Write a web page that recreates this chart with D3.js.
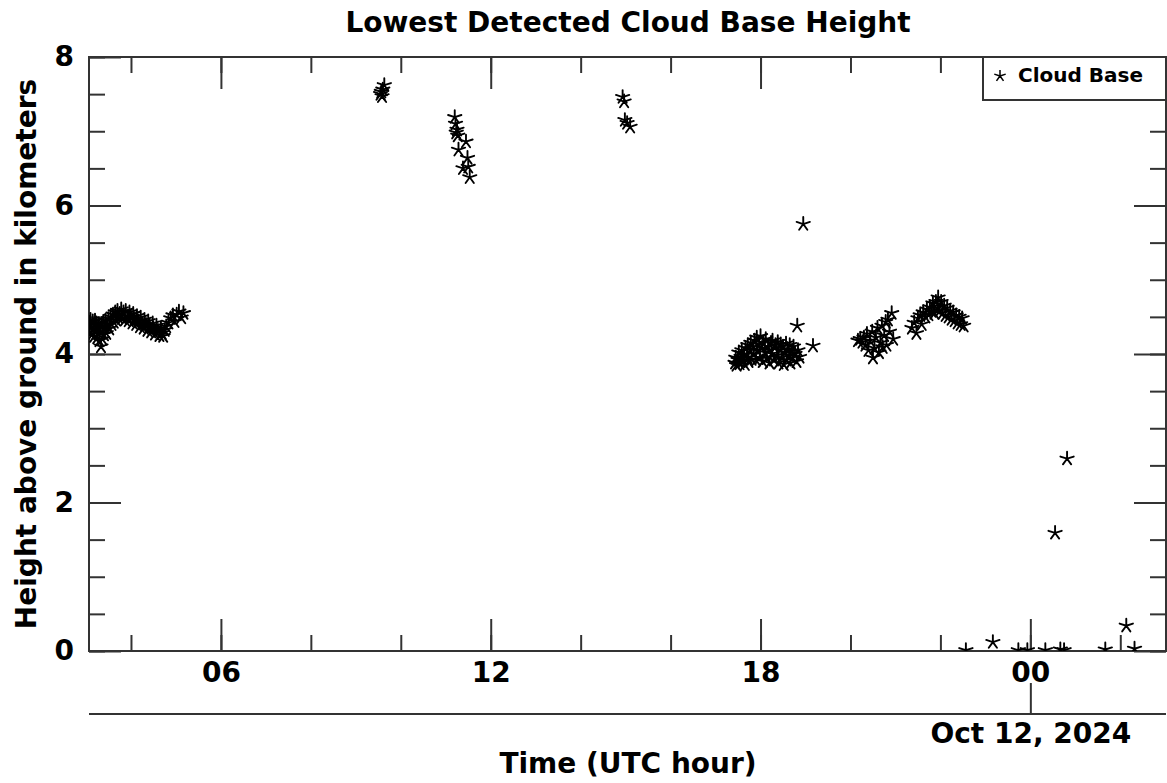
<!DOCTYPE html>
<html>
<head>
<meta charset="utf-8">
<script src="https://cdn.jsdelivr.net/npm/d3@7"></script>
<style>
  body { margin: 0; background: #fff; }
  text { font-family: "DejaVu Sans", sans-serif; font-weight: bold; fill: #000; }
</style>
</head>
<body>
<div id="chart"></div>
<script>
// cloud base observations, Oct 11 2024 (UTC)
var timesOct11 = [
  "03:04","03:05","03:06","03:07","03:08","03:09","03:10","03:11","03:12","03:13",
  "03:14","03:15","03:16","03:17","03:18","03:19","03:20","03:21","03:22","03:23",
  "03:24","03:25","03:26","03:27","03:28","03:30","03:31","03:33","03:34","03:36",
  "03:37","03:39","03:40","03:42","03:43","03:45","03:47","03:48","03:50","03:52",
  "03:53","03:55","03:57","03:58","04:00","04:02","04:03","04:05","04:07","04:08",
  "04:10","04:12","04:13","04:15","04:17","04:18","04:20","04:22","04:23","04:25",
  "04:27","04:29","04:30","04:32","04:34","04:36","04:38","04:40","04:41","04:43",
  "04:45","04:47","04:50","04:53","04:56","04:58","05:01","05:04","05:07","05:10",
  "09:33","09:34","09:35","09:36","09:38",
  "11:12","11:13","11:14","11:15","11:16","11:17","11:23","11:27","11:29","11:30","11:32",
  "14:56","14:58","14:59","15:02","15:06",
  "17:26","17:27","17:28","17:30","17:31","17:32","17:34","17:35","17:36","17:38",
  "17:39","17:40","17:42","17:43","17:44","17:46","17:47","17:48","17:50","17:51",
  "17:52","17:54","17:55","17:56","17:58","17:59","18:00","18:02","18:03","18:04",
  "18:06","18:07","18:08","18:10","18:11","18:12","18:14","18:15","18:16","18:18",
  "18:19","18:20","18:22","18:23","18:24","18:26","18:27","18:28","18:30","18:31",
  "18:32","18:34","18:35","18:36","18:38","18:39","18:40","18:42","18:43","18:44",
  "18:46","18:48","18:49","18:50","18:52","18:57","19:10",
  "20:10","20:13","20:16","20:18","20:20","20:22","20:24","20:26","20:29","20:30",
  "20:32","20:34","20:36","20:38","20:40","20:42","20:43","20:45","20:47","20:48",
  "20:50","20:52","20:55","20:57",
  "21:22","21:25","21:28","21:30","21:33","21:35","21:37","21:40","21:42","21:44",
  "21:46","21:48","21:50","21:52","21:54","21:56","21:57","21:59","22:01","22:03",
  "22:05","22:07","22:09","22:11","22:13","22:15","22:17","22:19","22:21","22:23",
  "22:25","22:27","22:29","22:31",
  "22:34","23:10","23:44","23:56"
];
var heightsOct11 = [
  4.42,4.30,4.46,4.36,4.26,4.44,4.33,4.24,4.45,4.32,
  4.41,4.22,4.35,4.40,4.18,4.30,4.10,4.38,4.20,4.43,
  4.26,4.36,4.45,4.28,4.40,4.47,4.34,4.50,4.40,4.53,
  4.43,4.56,4.46,4.58,4.49,4.54,4.60,4.48,4.56,4.46,
  4.58,4.50,4.45,4.56,4.49,4.42,4.54,4.46,4.40,4.51,
  4.44,4.37,4.49,4.41,4.35,4.46,4.39,4.32,4.44,4.37,
  4.30,4.41,4.34,4.27,4.38,4.31,4.25,4.35,4.28,4.24,
  4.32,4.37,4.42,4.48,4.52,4.44,4.53,4.57,4.49,4.55,
  7.50,7.53,7.47,7.56,7.62,
  7.19,7.10,6.98,7.02,6.94,6.75,6.50,6.86,6.64,6.52,6.38,
  7.46,7.40,7.15,7.11,7.06,
  3.88,3.95,3.85,3.92,4.02,3.87,3.96,4.05,3.90,4.00,
  3.86,4.08,3.95,4.12,3.90,4.05,4.15,3.93,4.10,4.00,
  4.18,3.92,4.22,4.05,4.12,3.95,4.24,4.08,3.90,4.15,
  4.02,4.20,3.94,4.10,4.05,3.88,4.15,4.00,4.18,3.92,
  4.08,4.12,3.98,4.16,3.88,4.05,4.13,3.95,4.10,3.86,
  4.02,4.14,3.92,4.06,3.98,4.12,3.88,4.04,3.95,4.10,
  4.00,3.90,4.38,4.05,3.96,5.75,4.11,
  4.18,4.20,4.16,4.22,4.12,4.27,4.05,4.18,4.30,3.95,
  4.08,4.22,4.35,4.02,4.15,4.38,4.09,4.25,4.43,4.12,
  4.46,4.30,4.55,4.20,
  4.35,4.42,4.28,4.48,4.52,4.40,4.56,4.50,4.60,4.53,
  4.63,4.58,4.68,4.55,4.70,4.62,4.76,4.58,4.70,4.55,
  4.65,4.52,4.62,4.50,4.58,4.47,4.56,4.45,4.52,4.42,
  4.50,4.40,4.48,4.38,
  0.01,0.12,0.01,0.01
];
// Oct 12 2024 (UTC)
var timesOct12 = ["00:20","00:33","00:40","00:45","00:49","01:40","02:08","02:19"];
var heightsOct12 = [0.01,1.59,0.02,0.01,2.59,0.02,0.34,0.03];

var yMajorTicks = [0, 2, 4, 6, 8];
var yMinorTicks = d3.range(0, 8.01, 0.5);
var titleText = "Lowest Detected Cloud Base Height";
var xLabelText = "Time (UTC hour)";
var yLabelText = "Height above ground in kilometers";
var dateLabel = "Oct 12, 2024";
var legendLabel = "Cloud Base";

var width = 1167, height = 783;
var margin = {left: 89, right: 1, top: 57, bottom: 132};
var innerW = width - margin.left - margin.right;
var innerH = height - margin.top - margin.bottom;
var axisColor = "#333";

var parse = d3.utcParse("%Y-%m-%d %H:%M");
var points = [];
timesOct11.forEach(function(t, i) {
  points.push({time: parse("2024-10-11 " + t), km: heightsOct11[i]});
});
timesOct12.forEach(function(t, i) {
  points.push({time: parse("2024-10-12 " + t), km: heightsOct12[i]});
});

var x = d3.scaleUtc()
  .domain([parse("2024-10-11 03:04"), parse("2024-10-12 03:01")])
  .range([0, innerW]);
var y = d3.scaleLinear().domain([0, 8]).range([innerH, 0]);

var svg = d3.select("#chart").append("svg")
  .attr("width", width)
  .attr("height", height);

var g = svg.append("g").attr("transform", "translate(" + margin.left + "," + margin.top + ")");

g.append("clipPath").attr("id", "plotclip")
  .append("rect").attr("width", innerW).attr("height", innerH);

function styleAxis(sel) {
  sel.select(".domain").remove();
  sel.selectAll("line").attr("stroke", axisColor).attr("stroke-width", 2);
  sel.selectAll("text").attr("font-size", 28).attr("fill", "#000");
}

// minor ticks, all four sides
g.append("g").attr("transform", "translate(0," + innerH + ")")
  .call(d3.axisBottom(x).ticks(d3.utcHour.every(2)).tickSize(-16).tickFormat(""))
  .call(styleAxis);
g.append("g")
  .call(d3.axisTop(x).ticks(d3.utcHour.every(2)).tickSize(-16).tickFormat(""))
  .call(styleAxis);
g.append("g")
  .call(d3.axisLeft(y).tickValues(yMinorTicks).tickSize(-16).tickFormat(""))
  .call(styleAxis);
g.append("g").attr("transform", "translate(" + innerW + ",0)")
  .call(d3.axisRight(y).tickValues(yMinorTicks).tickSize(-16).tickFormat(""))
  .call(styleAxis);

// major ticks
g.append("g").attr("transform", "translate(0," + innerH + ")")
  .call(d3.axisBottom(x).ticks(d3.utcHour.every(6)).tickSize(-32).tickPadding(11)
    .tickFormat(d3.utcFormat("%H")))
  .call(styleAxis);
g.append("g")
  .call(d3.axisTop(x).ticks(d3.utcHour.every(6)).tickSize(-32).tickFormat(""))
  .call(styleAxis);
g.append("g")
  .call(d3.axisLeft(y).tickValues(yMajorTicks).tickSize(-32).tickPadding(15))
  .call(styleAxis);
g.append("g").attr("transform", "translate(" + innerW + ",0)")
  .call(d3.axisRight(y).tickValues(yMajorTicks).tickSize(-32).tickFormat(""))
  .call(styleAxis);

// frame
g.append("rect")
  .attr("width", innerW).attr("height", innerH)
  .attr("fill", "none").attr("stroke", axisColor).attr("stroke-width", 2);

// date axis below
var dateAxisY = innerH + 63;
g.append("g").attr("transform", "translate(0," + dateAxisY + ")")
  .call(d3.axisBottom(x).ticks(d3.utcDay.every(1)).tickSize(-31).tickPadding(9)
    .tickFormat(d3.utcFormat("%b %d, %Y")))
  .call(styleAxis)
  .call(function(sel) { sel.selectAll("text").text(dateLabel); });
g.append("line")
  .attr("x1", 0).attr("x2", innerW)
  .attr("y1", dateAxisY).attr("y2", dateAxisY)
  .attr("stroke", axisColor).attr("stroke-width", 2);

// five-arm asterisk marker, like the plotting package's "*"
var asterisk = {
  draw: function(context, size) {
    var r = Math.sqrt(size) / 2;
    for (var k = 0; k < 5; k++) {
      var a = -Math.PI / 2 + k * 2 * Math.PI / 5;
      context.moveTo(0, 0);
      context.lineTo(r * Math.cos(a), r * Math.sin(a));
    }
  }
};
var star = d3.symbol().type(asterisk).size(196);

g.append("g").attr("clip-path", "url(#plotclip)")
  .selectAll("path")
  .data(points)
  .join("path")
  .attr("d", star)
  .attr("transform", function(d) { return "translate(" + x(d.time) + "," + y(d.km) + ")"; })
  .attr("fill", "none")
  .attr("stroke", "#000")
  .attr("stroke-width", 1.9)
  .attr("stroke-linecap", "round");

// legend
var legend = svg.append("g");
legend.append("rect")
  .attr("x", 983).attr("y", margin.top)
  .attr("width", width - margin.right - 983).attr("height", 43)
  .attr("fill", "#fff").attr("stroke", axisColor).attr("stroke-width", 2);
legend.append("path")
  .attr("d", d3.symbol().type(asterisk).size(144))
  .attr("transform", "translate(1000,76)")
  .attr("fill", "none").attr("stroke", "#000").attr("stroke-width", 1.5);
legend.append("text")
  .attr("x", 1018).attr("y", 82)
  .attr("font-size", 20)
  .text(legendLabel);

// titles
svg.append("text")
  .attr("x", 628).attr("y", 32)
  .attr("text-anchor", "middle")
  .attr("font-size", 28)
  .text(titleText);
svg.append("text")
  .attr("x", 628).attr("y", 773)
  .attr("text-anchor", "middle")
  .attr("font-size", 28)
  .text(xLabelText);
svg.append("text")
  .attr("transform", "translate(36," + (margin.top + innerH / 2) + ") rotate(-90)")
  .attr("text-anchor", "middle")
  .attr("font-size", 28)
  .text(yLabelText);
</script>
</body>
</html>
